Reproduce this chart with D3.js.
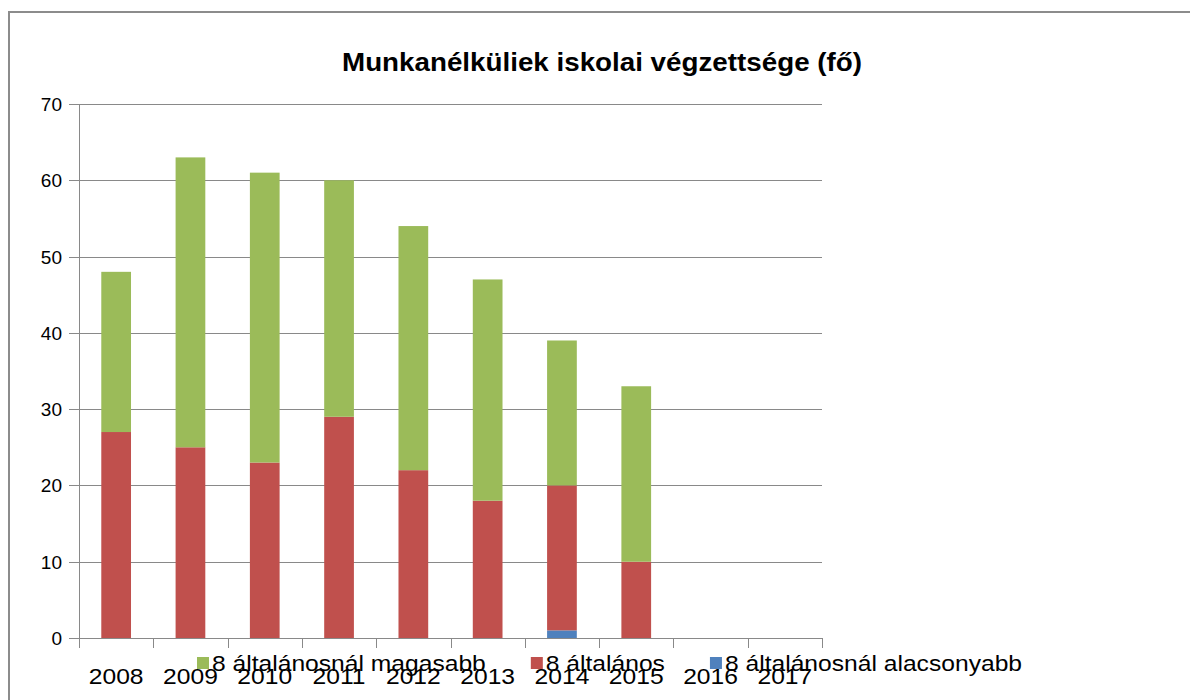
<!DOCTYPE html>
<html>
<head>
<meta charset="utf-8">
<script src="https://cdn.jsdelivr.net/npm/d3@7"></script>
<style>
  body { margin: 0; background: #fff; }
  text { font-family: "Liberation Sans", Arial, sans-serif; fill: #000; }
</style>
</head>
<body>
<svg id="chart" width="1190" height="700"></svg>
<script>
// years on the x axis
var years = ["2008", "2009", "2010", "2011", "2012", "2013", "2014", "2015", "2016", "2017"];
// series values (fő), bottom to top of each stack
var alacsonyabb = [0, 0, 0, 0, 0, 0, 1, 0, 0, 0];
var altalanos   = [27, 25, 23, 29, 22, 18, 19, 10, 0, 0];
var magasabb    = [21, 38, 38, 31, 32, 29, 19, 23, 0, 0];
var seriesNames = ["8 általánosnál alacsonyabb", "8 általános", "8 általánosnál magasabb"];
var seriesColors = ["#4F81BD", "#C0504D", "#9BBB59"];
var yTicks = [0, 10, 20, 30, 40, 50, 60, 70];
var title = "Munkanélküliek iskolai végzettsége (fő)";

function drawChart() {
  var svg = d3.select("#chart");
  var gray = "#898989";
  // the picture's text is a little wider than it is tall
  var stretch = 1.12;

  // outer chart frame (only top and left are visible in the picture)
  svg.append("path")
    .attr("d", "M9,700V12H1190")
    .attr("fill", "none")
    .attr("stroke", "#8c8c8c")
    .attr("stroke-width", 2);

  var pLeft = 79, pRight = 822, pTop = 104, pBottom = 638;

  var x = d3.scaleBand().domain(years).range([pLeft, pRight]).paddingInner(0.6).paddingOuter(0.3);
  var xCat = d3.scaleBand().domain(years).range([pLeft, pRight]);
  var y = d3.scaleLinear().domain([0, 70]).range([pBottom, pTop]);

  // build rows for the stack
  var rows = years.map(function(yr, i) {
    return { year: yr, a: alacsonyabb[i], b: altalanos[i], c: magasabb[i] };
  });
  var stacked = d3.stack().keys(["a", "b", "c"])(rows);

  // gridlines
  svg.append("g")
    .selectAll("line")
    .data(yTicks)
    .enter()
    .append("line")
    .attr("x1", pLeft - 10)
    .attr("x2", pRight)
    .attr("y1", function(d) { return Math.round(y(d)) + 0.5; })
    .attr("y2", function(d) { return Math.round(y(d)) + 0.5; })
    .attr("stroke", gray)
    .attr("stroke-width", 1);

  // y tick labels
  svg.append("g")
    .selectAll("text")
    .data(yTicks)
    .enter()
    .append("text")
    .attr("x", 62)
    .attr("y", function(d) { return y(d) + 7; })
    .attr("text-anchor", "end")
    .attr("font-size", 19)
    .text(function(d) { return d; });

  // y axis line
  svg.append("line")
    .attr("x1", pLeft + 0.5).attr("x2", pLeft + 0.5)
    .attr("y1", pTop).attr("y2", pBottom)
    .attr("stroke", gray);

  // bars
  svg.append("g")
    .selectAll("g")
    .data(stacked)
    .enter()
    .append("g")
    .attr("fill", function(d, i) { return seriesColors[i]; })
    .selectAll("rect")
    .data(function(d) { return d; })
    .enter()
    .append("rect")
    .attr("x", function(d) { return x(d.data.year); })
    .attr("width", x.bandwidth())
    .attr("y", function(d) { return y(d[1]); })
    .attr("height", function(d) { return y(d[0]) - y(d[1]); });

  // x axis line
  svg.append("line")
    .attr("x1", pLeft - 10).attr("x2", pRight)
    .attr("y1", pBottom + 0.5).attr("y2", pBottom + 0.5)
    .attr("stroke", gray);

  // ticks between categories
  var edges = years.map(function(d) { return xCat(d); }).concat([pRight]);
  svg.append("g")
    .selectAll("line")
    .data(edges)
    .enter()
    .append("line")
    .attr("x1", function(d) { return Math.round(d) + 0.5; })
    .attr("x2", function(d) { return Math.round(d) + 0.5; })
    .attr("y1", pBottom)
    .attr("y2", pBottom + 10)
    .attr("stroke", gray);

  // x labels
  svg.append("g")
    .selectAll("text")
    .data(years)
    .enter()
    .append("text")
    .attr("transform", function(d) {
      return "translate(" + (xCat(d) + xCat.bandwidth() / 2) + ",684) scale(" + stretch + ",1)";
    })
    .attr("text-anchor", "middle")
    .attr("font-size", 22)
    .text(function(d) { return d; });

  // title
  svg.append("text")
    .attr("x", 602)
    .attr("y", 71)
    .attr("text-anchor", "middle")
    .attr("font-size", 25)
    .attr("font-weight", "bold")
    .attr("textLength", 520)
    .attr("lengthAdjust", "spacingAndGlyphs")
    .text(title);

  // legend, in the order Excel shows it (top series first)
  var legendOrder = [2, 1, 0];
  var legend = svg.append("g");
  var lx = 197;
  legendOrder.forEach(function(si) {
    legend.append("rect")
      .attr("x", lx).attr("y", 657)
      .attr("width", 12).attr("height", 12)
      .attr("fill", seriesColors[si]);
    var t = legend.append("text")
      .attr("transform", "translate(" + (lx + 15) + ",671) scale(" + stretch + ",1)")
      .attr("font-size", 22)
      .text(seriesNames[si]);
    lx += 15 + t.node().getComputedTextLength() * stretch + 45;
  });
}

drawChart();
</script>
</body>
</html>
